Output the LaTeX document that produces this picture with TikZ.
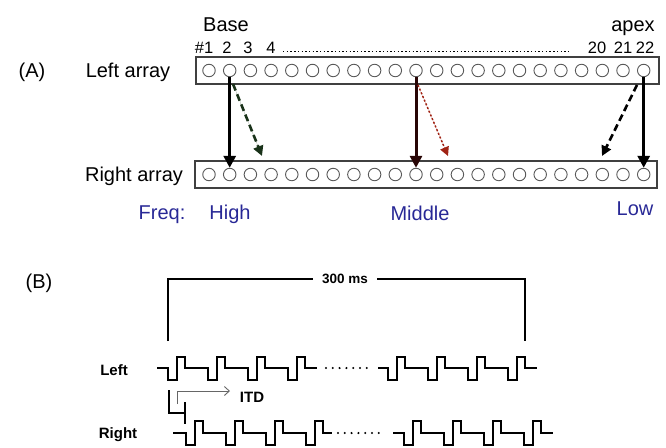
\documentclass[tikz,border=0pt]{standalone}
\usepackage{fontspec}
\setmainfont{Liberation Sans}
\usetikzlibrary{arrows.meta}
\definecolor{freqblue}{RGB}{40,40,150}
\definecolor{dkgreen}{RGB}{25,50,25}
\definecolor{dkred}{RGB}{160,35,20}
\definecolor{dkmaroon}{RGB}{40,5,5}
\begin{document}
\begin{tikzpicture}[x=1pt,y=-1pt,
  lbl/.style={font=\fontsize{20}{24}\selectfont, anchor=base, inner sep=0pt},
  numlbl/.style={font=\fontsize{16.5}{19}\selectfont, anchor=base, inner sep=0pt},
  freqlbl/.style={lbl, text=freqblue},
  blbl/.style={font=\fontsize{15}{18}\selectfont\bfseries, anchor=base, inner sep=0pt},
  arraybox/.style={draw=black!75, line width=1.3pt, minimum width=463pt, minimum height=27pt, inner sep=0pt},
  cell/.style={draw=black!65, line width=0.9pt, circle, minimum size=12.5pt, inner sep=0pt},
  solidarr/.style={line width=3pt, -{Triangle[length=12pt,width=12pt]}},
  dasharr/.style={line width=2.6pt, dash pattern=on 7pt off 4pt, -{Triangle[length=10pt,width=10pt]}},
  dotarr/.style={line width=1.5pt, dash pattern=on 2pt off 2pt, -{Triangle[length=9pt,width=9pt]}},
  wave/.style={line width=2.2pt, line join=miter},
  bracket/.style={line width=2.3pt},
  dotmark/.style={fill=black, circle, inner sep=0pt, minimum size=2.3pt}
]
\useasboundingbox (0,0) rectangle (666,447);

% ---------- (A) ----------
\node[lbl] (lA) at (32,77) {(A)};
\node[lbl] (lleft) at (128,77) {Left array};
\node[lbl] (lright) at (134,181) {Right array};
\node[lbl] (lbase) at (226,31) {Base};
\node[lbl] (lapex) at (633,31) {apex};

\node[numlbl] (n1) at (204,53) {\#1};
\node[numlbl] (n2) at (227,53) {2};
\node[numlbl] (n3) at (248,53) {3};
\node[numlbl] (n4) at (271,53) {4};
\node[numlbl] (n20) at (597,53) {20};
\node[numlbl] (n21) at (623,53) {21};
\node[numlbl] (n22) at (645,53) {22};
\draw[line width=1.4pt, dash pattern=on 1.4pt off 2.3pt] (283,51.5) -- (568,51.5);

\node[arraybox] (topbox) at (427.5,70.5) {};
\node[arraybox, minimum width=462pt] (botbox) at (426,174.5) {};
\foreach \i in {1,...,22} {
  \node[cell] (L\i) at ({209+(\i-1)*20.7},70.5) {};
  \node[cell] (R\i) at ({209+(\i-1)*20.7},174.5) {};
}

\coordinate (t1) at (262,156);
\coordinate (t2) at (448,156);
\coordinate (t3) at (602,156);
\coordinate (s1) at (233,84);
\coordinate (s2) at (418,85);
\coordinate (s3) at (637,85);

\draw[solidarr] (L2.south) -- (R2.north -| L2.south);
\draw[dasharr, draw=dkgreen, fill=dkgreen] (s1) -- (t1);
\draw[solidarr, draw=dkmaroon] (L11.south) -- (R11.north -| L11.south);
\draw[dotarr, draw=dkred, fill=dkred] (s2) -- (t2);
\draw[solidarr] (L22.south) -- (R22.north -| L22.south);
\draw[dasharr] (s3) -- (t3);

\node[freqlbl] (ffreq) at (162,219) {Freq:};
\node[freqlbl] (fhigh) at (230,219) {High};
\node[freqlbl] (fmid) at (420,220) {Middle};
\node[freqlbl] (flow) at (635,215) {Low};

% ---------- (B) ----------
\node[lbl] (lB) at (39,288) {(B)};
\node[font=\fontsize{13.5}{16}\selectfont\bfseries, inner xsep=9pt, inner ysep=0pt] (ms) at (345,279) {300 ms};
\draw[bracket] (168,341) -- (168,279) -- (ms.west);
\draw[bracket] (ms.east) -- (525,279) -- (525,341);

\node[blbl] (wl) at (114,375) {Left};
\node[blbl] (wr) at (118,438) {Right};
\node[blbl] (itd) at (252,402) {ITD};

% left waveform
\draw[wave] (157,368)
  foreach \p in {168,208,248,288} { -- (\p,368) -- (\p,380) -- (\p+9,380) -- (\p+9,357) -- (\p+17,357) -- (\p+17,368) }
  -- (317,368);
\foreach \k in {0,...,6} \node[dotmark] at ({326+\k*6.8},368) {};
\draw[wave] (378,368)
  foreach \p in {388,428,468,508} { -- (\p,368) -- (\p,380) -- (\p+9,380) -- (\p+9,357) -- (\p+17,357) -- (\p+17,368) }
  -- (537,368);

% right waveform
\draw[wave] (173,433)
  foreach \p in {186,226,266,306} { -- (\p,433) -- (\p,445) -- (\p+9,445) -- (\p+9,421) -- (\p+17,421) -- (\p+17,433) }
  -- (332,433);
\foreach \k in {0,...,6} \node[dotmark] at ({338+\k*6.8},433) {};
\draw[wave] (393,433)
  foreach \p in {404,444,484,524} { -- (\p,433) -- (\p,445) -- (\p+9,445) -- (\p+9,421) -- (\p+17,421) -- (\p+17,433) }
  -- (553,433);

% ITD marker
\coordinate (itdstart) at (177,404);
\coordinate (itdend) at (230,391);
\draw[line width=1.6pt] (169,390) -- (169,413) -- (185,413);
\draw[line width=1.6pt] (185,402) -- (185,424);
\draw[draw=black!60, line width=0.9pt, -{Straight Barb[length=5pt,width=9pt]}] (itdstart) |- (itdend);
\end{tikzpicture}
\end{document}
